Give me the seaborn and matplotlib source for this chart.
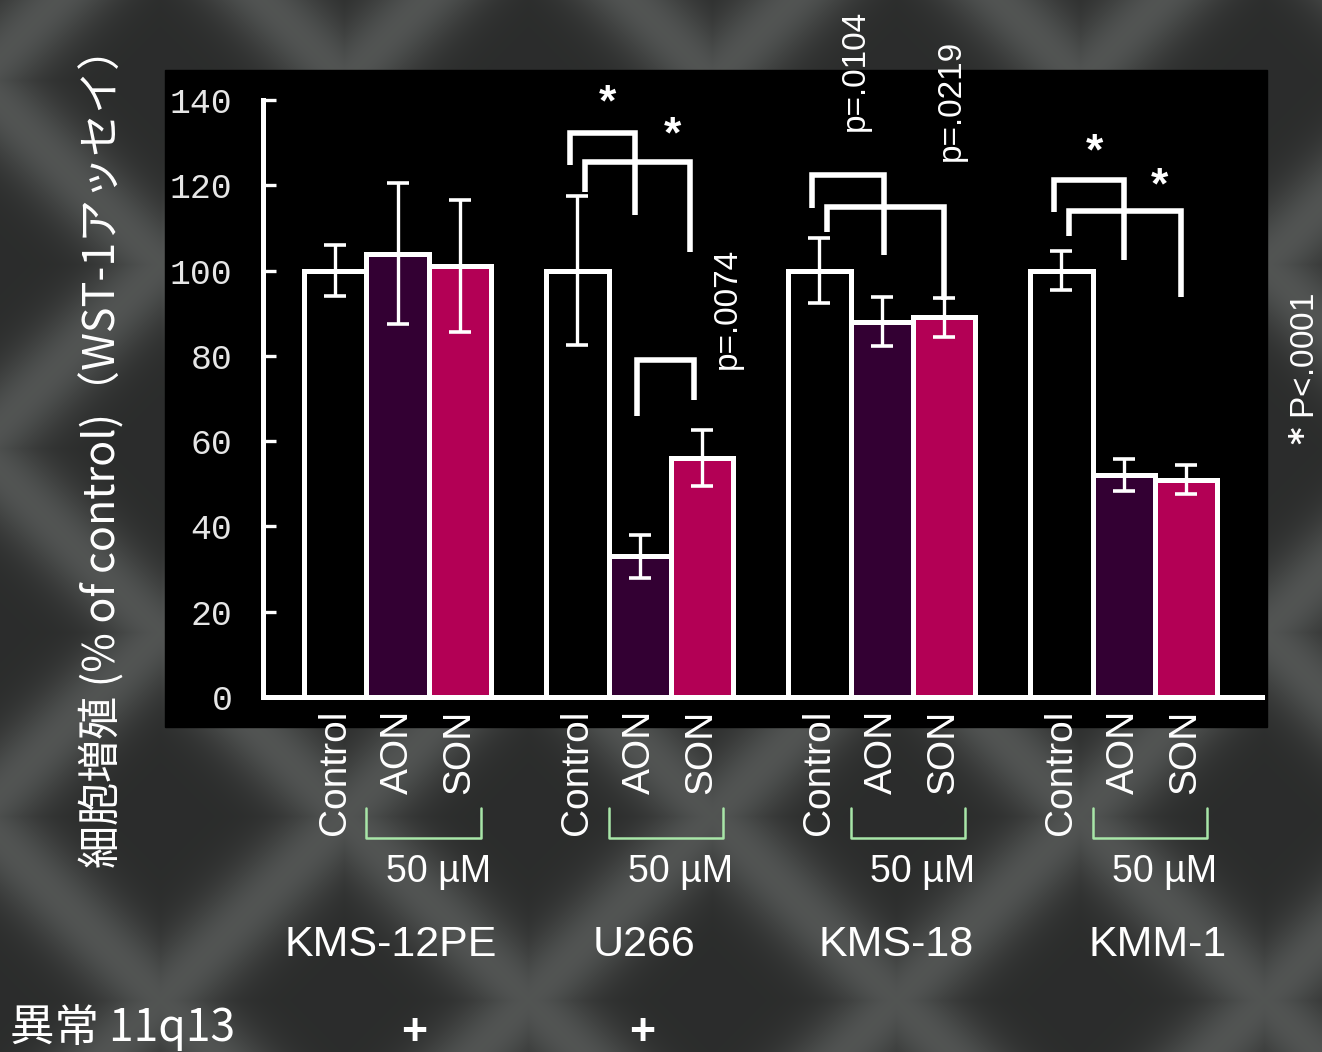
import numpy as np
import pandas as pd
import matplotlib
matplotlib.use("Agg")
import matplotlib.pyplot as plt
import seaborn as sns

sns.set_theme(style="white")
plt.rcParams["font.family"] = ["Liberation Sans", "DejaVu Sans"]

# Data
cell_lines = ["KMS-12PE", "U266", "KMS-18", "KMM-1"]
treatments = ["Control", "AON", "SON"]
control_mean = [100, 100, 100, 100]
aon_mean = [104, 33, 88, 52]
son_mean = [101, 56, 89, 51]
control_sd = [6, 17.5, 7.7, 4.5]
aon_sd = [16.5, 5, 5.7, 3.7]
son_sd = [15.5, 6.5, 4.5, 3.5]
abnormal_11q13 = ["+", "+", "", ""]
y_ticks = [0, 20, 40, 60, 80, 100, 120, 140]

bar_colors = ["#000000", "#330033", "#b30055"]

df = pd.DataFrame({
    "cell_line": np.repeat(cell_lines, 3),
    "treatment": treatments * 4,
    "value": np.ravel(np.column_stack([control_mean, aon_mean, son_mean])),
    "sd": np.ravel(np.column_stack([control_sd, aon_sd, son_sd])),
})

fig = plt.figure(figsize=(13.22, 10.52), dpi=100)

# Background axes in pixel coordinates (woven dark backdrop + black panel)
bg = fig.add_axes([0, 0, 1, 1], zorder=-10)
gx, gy = np.meshgrid(np.arange(1322), np.arange(1052))
period = 368
u = np.mod(gx + gy - 1160, period)
v = np.mod(gx - gy + 840, period)
d1 = np.minimum(u, period - u) / np.sqrt(2)
d2 = np.minimum(v, period - v) / np.sqrt(2)
band = np.maximum(np.exp(-(d1 / 42) ** 2), np.exp(-(d2 / 42) ** 2))
shade = 0.17 + 0.15 * band
tex = np.dstack([shade, shade * 1.03, shade * 1.015])
bg.imshow(np.clip(tex, 0, 1), extent=(0, 1322, 1052, 0), aspect="auto", zorder=0)
bg.set_xlim(0, 1322)
bg.set_ylim(1052, 0)
bg.axis("off")
bg.add_patch(plt.Rectangle((165, 70), 1102, 657, color="black", zorder=2))

# Main axes
ax = fig.add_axes([263 / 1322, 1 - 697 / 1052, 999 / 1322, 597 / 1052])
ax.patch.set_alpha(0)
sns.barplot(
    data=df, x="cell_line", y="value", hue="treatment",
    order=cell_lines, hue_order=treatments, palette=bar_colors,
    width=0.77, errorbar=None, edgecolor="white", linewidth=3.6,
    saturation=1, legend=False, ax=ax,
)

ax.set_xlim(-0.556, 3.572)
ax.set_ylim(0, 140)

# bar centres per treatment
centers = {}
tops = {}
for t, cont in zip(treatments, ax.containers):
    centers[t] = [b.get_x() + b.get_width() / 2 for b in cont]
    tops[t] = [b.get_height() for b in cont]
bar_w = ax.containers[0][0].get_width()

for t, sd in zip(treatments, [control_sd, aon_sd, son_sd]):
    ax.errorbar(centers[t], tops[t], yerr=sd, fmt="none", ecolor="white",
                elinewidth=2.4, capsize=8, capthick=2.6, zorder=5, clip_on=False)

# axes styling
for side in ["top", "right"]:
    ax.spines[side].set_visible(False)
for side in ["left", "bottom"]:
    ax.spines[side].set_color("white")
    ax.spines[side].set_linewidth(3.6)
ax.spines["left"].set_bounds(0, 140)
ax.set_yticks(y_ticks)
ax.set_yticklabels([str(v) for v in y_ticks], family=["Liberation Mono", "DejaVu Sans Mono"],
                   fontsize=25, color="#e6e6e6")
ax.tick_params(axis="y", direction="in", length=9, width=2.4, color="white", pad=22, left=True)

tick_pos = []
tick_lab = []
for g in range(len(cell_lines)):
    for t in treatments:
        tick_pos.append(centers[t][g])
        tick_lab.append(t)
ax.set_xticks(tick_pos)
ax.set_xticklabels(tick_lab, rotation=90, fontsize=28, color="white", va="top", ha="center")
ax.tick_params(axis="x", length=0, pad=9)
ax.set_xlabel("")
ax.set_ylabel("")


def bracket(xa, xb, top, lb, rb):
    ax.plot([xa, xa, xb, xb], [lb, top, top, rb], color="white", lw=4,
            solid_joinstyle="miter", solid_capstyle="butt", clip_on=False, zorder=6)


# significance brackets: (group, bar a, bar b, top, left foot, right foot, dx a, dx b)
brackets = [
    (1, "Control", "AON", 132.3, 124.8, 113.0, -0.03, -0.02),
    (1, "Control", "SON", 125.5, 118.4, 104.4, 0.03, -0.05),
    (1, "AON", "SON", 79.0, 66.0, 69.7, -0.01, -0.03),
    (2, "Control", "AON", 122.4, 114.7, 103.7, -0.03, 0.01),
    (2, "Control", "SON", 115.0, 109.0, 93.0, 0.03, 0.0),
    (3, "Control", "AON", 121.2, 113.7, 102.5, -0.03, 0.0),
    (3, "Control", "SON", 114.0, 108.0, 93.8, 0.03, -0.02),
]
for g, a, b, top, lb, rb, da, db in brackets:
    bracket(centers[a][g] + da, centers[b][g] + db, top, lb, rb)

# stars and p values
stars = [(0.866, 140.7), (1.134, 133.0), (2.878, 129.0), (3.147, 121.2)]
for sx, sy in stars:
    ax.text(sx, sy - 1.5, "*", color="white", fontsize=32, fontweight="bold",
            ha="center", va="center", clip_on=False)
p_labels = [(1.362, 91.2, "p=.0074"), (1.89, 147.0, "p=.0104"), (2.29, 139.8, "p=.0219")]
for px, py, s in p_labels:
    ax.text(px, py, s, color="white", fontsize=24, rotation=90, ha="center", va="center", clip_on=False)
ax.text(3.75, 77, "$\\bf{*}$ P<.0001", color="white", fontsize=24, rotation=90, ha="center",
        va="center", clip_on=False)

# dose brackets, dose text, cell line names
name_dx = [-0.03, 0.02, 0.06, 0.14]
plus_dx = [0.07, 0.01]
for g, name in enumerate(cell_lines):
    x0 = centers["AON"][g] - bar_w / 2
    x1 = centers["SON"][g] + bar_w / 2 - 0.04
    ax.plot([x0, x0, x1, x1], [-26, -33, -33, -26], color="#a8e6a8", lw=1.8, clip_on=False)
    ax.text((x0 + x1) / 2 + 0.06, -41, "50 µM", color="white", fontsize=27,
            ha="center", va="center", clip_on=False)
    ax.text(g + name_dx[g], -58.2, name, color="white", fontsize=31,
            ha="center", va="center", clip_on=False)
    if abnormal_11q13[g]:
        ax.text(g + plus_dx[g], -79, abnormal_11q13[g], color="white", fontsize=32,
                fontweight="bold", ha="center", va="center", clip_on=False)

bg.text(10, 1028, "異常 11q13", color="white", fontsize=32, ha="left", va="center",
        family=["Noto Sans CJK JP", "DejaVu Sans"])
bg.text(103, 447, "細胞増殖 (% of control)（WST-1アッセイ）", color="white", fontsize=31,
        rotation=90, ha="center", va="center", family=["Noto Sans CJK JP", "DejaVu Sans"])

fig.savefig("out.png", dpi=100)
